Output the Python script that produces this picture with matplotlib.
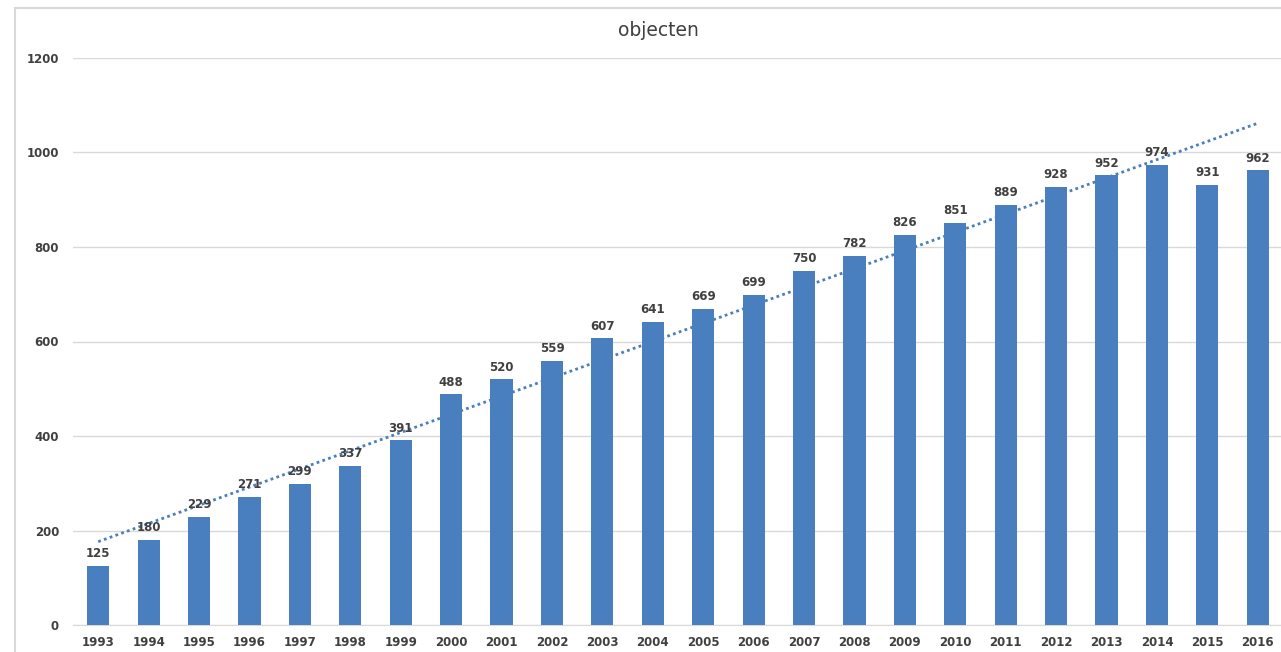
import numpy as np
import matplotlib.pyplot as plt
from matplotlib.patches import Rectangle

# data
years = [str(y) for y in range(1993, 2017)]
objecten = [125, 180, 229, 271, 299, 337, 391, 488, 520, 559, 607, 641,
            669, 699, 750, 782, 826, 851, 889, 928, 952, 974, 931, 962]

plt.rcParams['font.family'] = ['DejaVu Sans']

fig = plt.figure(figsize=(12.81, 6.52), dpi=100)
ax = fig.add_axes([73 / 1281, 27 / 652, 1210 / 1281, 567 / 652])

x = np.arange(len(years))
ax.bar(x, objecten, width=0.44, color='#4a7fbf', zorder=3)

# lineaire trendlijn
a, b = np.polyfit(x, objecten, 1)
ax.plot(x, a * x + b, color='#4a7fbf', lw=2, linestyle=(0, (1, 1.2)), zorder=4)

for xi, v in zip(x, objecten):
    ax.text(xi, v + 12, str(v), ha='center', va='bottom', fontsize=8.5,
            fontweight='bold', color='#404040', zorder=5)

ax.set_xlim(-0.5, len(years) - 0.5)
ax.set_ylim(0, 1200)
ax.set_yticks(range(0, 1201, 200))
ax.set_xticks(x)
ax.set_xticklabels(years)
ax.yaxis.grid(True, color='#d9d9d9', lw=1, zorder=0)
for s in ['top', 'right', 'left']:
    ax.spines[s].set_visible(False)
ax.spines['bottom'].set_color('#d9d9d9')
ax.tick_params(length=0, labelsize=8.5, labelcolor='#404040')
ax.tick_params(axis='y', pad=10)
ax.tick_params(axis='x', pad=8)
for lab in ax.get_xticklabels() + ax.get_yticklabels():
    lab.set_fontweight('bold')

fig.text(658 / 1281, 1 - 30 / 652, 'objecten', ha='center', va='center',
         fontsize=13.5, color='#404040')

# kader om grafiek
fig.patches.append(Rectangle((15 / 1281, -0.1), 1.2, 1 - 8 / 652 + 0.1,
                             transform=fig.transFigure, fill=False,
                             edgecolor='#d9d9d9', lw=1.5))

fig.savefig('out.png', dpi=100)
